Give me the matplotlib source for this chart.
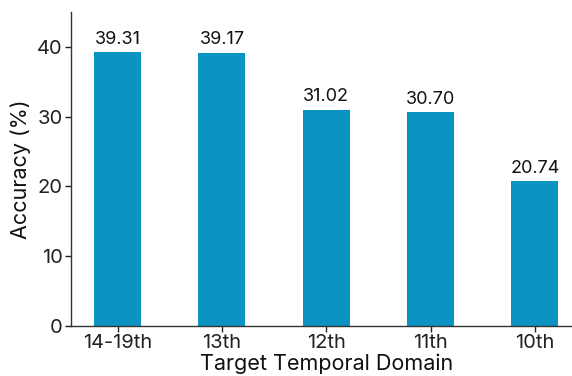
import matplotlib
matplotlib.use("Agg")
import matplotlib.pyplot as plt

categories = ["14-19th", "13th", "12th", "11th", "10th"]
values = [39.31, 39.17, 31.02, 30.70, 20.74]
labels = ["39.31", "39.17", "31.02", "30.70", "20.74"]

plt.rcParams['font.family'] = ['Inter', 'DejaVu Sans']

fig = plt.figure(figsize=(5.72, 3.76), dpi=100)
ax = fig.add_axes([71/572, 50/376, 510.5/572, 314/376])
x = list(range(len(categories)))
bars = ax.bar(x, values, width=0.45, color="#0B93C4")
for xi, v, lab in zip(x, values, labels):
    ax.text(xi, v + 0.6, lab, ha="center", va="bottom", fontsize=13, color="#111111")

ax.set_xticks(x)
ax.set_xticklabels(categories)
ax.set_ylim(0, 45)
ax.set_yticks([0, 10, 20, 30, 40])
ax.set_xlim(-0.4475, 4.4475)
ax.tick_params(labelsize=14.5, colors="#222222", length=4, width=1, pad=2)
ax.set_ylabel("Accuracy (%)", fontsize=15.5, color="#111111", labelpad=4)
ax.set_xlabel("Target Temporal Domain", fontsize=15.5, color="#111111", labelpad=1)
ax.spines["top"].set_visible(False)
ax.spines["right"].set_visible(False)
for s in ["left", "bottom"]:
    ax.spines[s].set_color("#333333")
    ax.spines[s].set_linewidth(1.0)

fig.savefig("out.png", dpi=100)
